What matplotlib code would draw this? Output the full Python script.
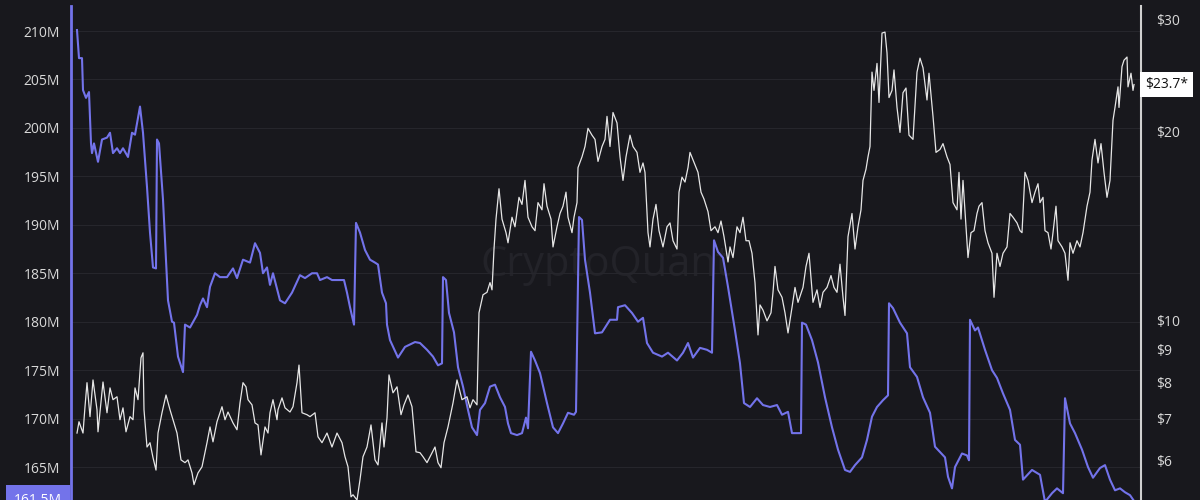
"""
Supply vs price, dual axis (left: supply in millions, right: price on log scale).
"""

import matplotlib
matplotlib.use("Agg")
import matplotlib.pyplot as plt
import matplotlib.transforms as mtransforms
from matplotlib.ticker import FixedLocator, NullLocator

# ── data ──────────────────────────────────────────────────────────────────────

supply_day = [6, 8, 11, 12, 15, 18, 20, 21, 23, 27, 31, 36, 39, 42, 46, 49, 52, 57, 61, 64,
              69, 72, 76, 79, 82, 85, 86, 88, 92, 97, 101, 103, 107, 112, 114, 119, 126, 129,
              132, 136, 139, 144, 149, 156, 162, 166, 172, 179, 184, 189, 192, 196, 199, 202,
              209, 214, 221, 229, 234, 241, 246, 249, 256, 261, 267, 273, 276, 279, 283, 285,
              289, 294, 299, 304, 307, 311, 315, 316, 319, 327, 334, 344, 349, 356, 362, 367,
              371, 372, 375, 378, 383, 387, 392, 397, 401, 406, 409, 414, 419, 424, 429, 434,
              437, 440, 446, 451, 455, 457, 460, 464, 469, 476, 482, 487, 492, 497, 503, 505,
              508, 511, 514, 519, 524, 531, 539, 546, 547, 554, 561, 567, 572, 576, 582, 591,
              597, 606, 612, 617, 622, 629, 636, 641, 643, 647, 652, 657, 664, 669, 673, 679,
              686, 692, 699, 706, 711, 717, 721, 730, 731, 735, 741, 747, 754, 761, 767, 774,
              779, 784, 791, 796, 801, 806, 812, 817, 818, 822, 829, 836, 839, 846, 852, 859,
              864, 874, 877, 881, 884, 891, 896, 898, 899, 904, 907, 914, 921, 926, 932, 939,
              944, 949, 952, 961, 969, 974, 981, 986, 992, 994, 999, 1004, 1011, 1017, 1022,
              1029, 1034, 1039, 1044, 1049, 1054, 1059, 1063]

supply_m = [210.1, 207.2, 207.2, 203.9, 203.1, 203.7, 198.4, 197.4, 198.4, 196.5, 198.8, 199.0,
            199.5, 197.4, 197.9, 197.4, 197.9, 197.0, 199.5, 199.3, 202.2, 199.5, 193.9, 189.2,
            185.6, 185.5, 198.8, 198.4, 192.6, 182.2, 180.0, 179.9, 176.4, 174.8, 179.7, 179.4,
            180.7, 181.7, 182.4, 181.5, 183.6, 185.0, 184.6, 184.6, 185.5, 184.5, 186.4, 186.1,
            188.1, 187.1, 185.0, 185.6, 183.8, 185.0, 182.2, 181.9, 183.0, 184.8, 184.5, 185.0,
            185.0, 184.3, 184.6, 184.3, 184.3, 184.3, 183.0, 181.5, 179.7, 190.2, 189.2, 187.4,
            186.4, 186.1, 185.9, 183.0, 181.9, 179.7, 178.1, 176.3, 177.4, 177.9, 177.8, 177.1,
            176.4, 175.5, 175.7, 184.6, 184.3, 180.9, 178.9, 175.3, 173.3, 170.9, 169.1, 168.3,
            170.9, 171.6, 173.3, 173.5, 172.2, 171.2, 169.5, 168.5, 168.3, 168.5, 170.1, 169.0,
            176.9, 176.0, 174.7, 171.6, 169.1, 168.5, 169.5, 170.6, 170.4, 170.7, 190.8, 190.5,
            186.4, 183.0, 178.8, 178.9, 180.2, 180.2, 181.5, 181.7, 180.9, 180.0, 180.4, 177.8,
            176.8, 176.4, 176.8, 176.0, 176.8, 177.8, 176.3, 177.3, 177.1, 176.8, 188.4, 187.2,
            186.6, 183.6, 179.1, 175.7, 171.6, 171.2, 172.1, 171.4, 171.2, 171.4, 170.4, 170.7,
            168.5, 168.5, 179.9, 179.7, 178.1, 175.8, 172.2, 169.1, 166.8, 164.7, 164.5, 165.2,
            166.0, 167.8, 170.2, 171.2, 171.9, 172.4, 181.9, 181.4, 179.9, 178.8, 175.3, 174.3,
            172.2, 170.6, 167.1, 166.0, 164.0, 162.8, 165.0, 166.4, 166.2, 165.7, 180.2, 179.1,
            179.4, 177.1, 175.0, 174.2, 172.6, 170.9, 167.8, 167.3, 163.7, 164.7, 164.2, 161.4,
            162.3, 162.8, 162.3, 172.1, 169.5, 168.5, 166.8, 165.0, 163.9, 164.9, 165.2, 163.7,
            162.6, 162.8, 162.4, 162.1, 161.5]

price_day = [6, 8, 12, 14, 16, 19, 22, 26, 27, 32, 36, 39, 42, 46, 49, 52, 55, 59, 62, 64, 67,
             70, 72, 73, 76, 79, 82, 85, 87, 91, 95, 99, 103, 106, 110, 114, 117, 121, 123, 127,
             131, 136, 139, 142, 146, 151, 154, 157, 162, 166, 169, 172, 175, 177, 181, 184, 187,
             190, 194, 197, 199, 202, 206, 207, 211, 214, 219, 222, 226, 228, 231, 236, 239, 244,
             247, 251, 256, 261, 266, 271, 274, 277, 280, 282, 286, 289, 292, 296, 300, 304, 307,
             311, 313, 316, 318, 322, 326, 330, 333, 337, 341, 345, 349, 352, 356, 359, 364, 367,
             370, 373, 377, 382, 386, 391, 396, 399, 402, 406, 408, 412, 416, 419, 421, 423, 425,
             428, 431, 435, 437, 441, 444, 448, 451, 454, 457, 461, 464, 467, 471, 473, 476, 480,
             482, 486, 489, 492, 495, 497, 501, 503, 506, 507, 511, 514, 517, 521, 524, 527, 531,
             534, 536, 539, 542, 546, 549, 552, 555, 559, 562, 566, 569, 572, 574, 577, 579, 582,
             585, 588, 592, 596, 599, 602, 606, 608, 611, 614, 617, 619, 622, 627, 630, 633, 637,
             640, 644, 647, 650, 653, 657, 659, 662, 666, 669, 672, 675, 678, 681, 684, 687, 689,
             692, 696, 700, 702, 704, 707, 711, 714, 717, 721, 724, 727, 732, 735, 738, 742, 746,
             749, 752, 756, 760, 763, 766, 769, 772, 774, 777, 781, 784, 787, 790, 792, 795, 797,
             799, 801, 803, 806, 808, 811, 814, 816, 818, 821, 823, 826, 829, 832, 835, 838, 842,
             846, 849, 852, 856, 858, 862, 865, 869, 872, 876, 879, 882, 886, 888, 890, 892, 895,
             897, 900, 903, 906, 908, 911, 914, 917, 921, 923, 926, 929, 932, 936, 939, 942, 946,
             949, 951, 954, 957, 961, 964, 967, 969, 972, 974, 977, 980, 982, 985, 987, 991, 994,
             997, 999, 1002, 1006, 1009, 1012, 1016, 1019, 1021, 1024, 1027, 1030, 1033, 1036,
             1039, 1042, 1044, 1047, 1048, 1051, 1053, 1056, 1057, 1060, 1062, 1063]

price_usd = [6.64, 6.92, 6.64, 7.31, 7.98, 7.05, 8.06, 7.23, 6.67, 8.00, 7.15, 7.83, 7.50, 7.58,
             6.97, 7.28, 6.67, 7.05, 6.97, 7.83, 7.50, 8.74, 8.90, 7.23, 6.31, 6.41, 6.07, 5.80,
             6.64, 7.15, 7.63, 7.23, 6.89, 6.64, 6.02, 5.96, 6.02, 5.74, 5.50, 5.74, 5.87, 6.41,
             6.79, 6.43, 6.92, 7.31, 6.97, 7.17, 6.89, 6.72, 7.41, 7.98, 7.86, 7.50, 7.36, 6.89,
             6.84, 6.13, 6.79, 6.64, 7.15, 7.50, 6.97, 7.23, 7.55, 7.28, 7.17, 7.31, 7.98, 8.51,
             7.15, 7.10, 7.05, 7.15, 6.55, 6.41, 6.64, 6.31, 6.64, 6.41, 6.09, 5.87, 5.26, 5.30,
             5.20, 5.60, 6.09, 6.31, 6.84, 6.02, 5.91, 6.89, 6.31, 7.02, 8.21, 7.69, 7.86, 7.10,
             7.36, 7.63, 7.31, 6.20, 6.18, 6.09, 5.96, 6.09, 6.31, 5.96, 5.85, 6.41, 6.79, 7.41,
             8.06, 7.50, 7.58, 7.28, 7.50, 7.36, 10.3, 11.0, 11.1, 11.5, 11.2, 13.0, 14.5, 16.2,
             14.5, 13.8, 13.3, 14.6, 14.1, 15.7, 15.3, 16.7, 14.6, 14.1, 13.9, 15.4, 15.0, 16.5,
             15.2, 14.5, 13.1, 14.1, 14.8, 15.2, 16.0, 14.6, 13.8, 14.6, 15.4, 17.5, 18.2, 18.9,
             20.2, 19.7, 19.4, 17.9, 18.9, 19.4, 21.1, 18.9, 21.4, 20.6, 18.2, 16.7, 18.2, 19.7,
             18.9, 18.5, 17.2, 17.8, 17.2, 13.8, 13.1, 14.5, 15.3, 13.9, 13.1, 14.1, 14.3, 13.4,
             13.0, 16.0, 16.9, 16.6, 17.5, 18.5, 18.0, 17.2, 16.0, 15.6, 14.9, 13.9, 14.1, 13.8,
             14.4, 13.6, 12.4, 13.1, 12.6, 14.1, 13.8, 14.6, 13.4, 13.4, 12.8, 11.5, 9.50, 10.6,
             10.4, 10.0, 10.3, 11.1, 12.2, 11.2, 10.9, 10.3, 9.57, 10.5, 11.3, 10.7, 11.3, 12.2,
             12.8, 10.7, 11.2, 10.5, 11.1, 11.3, 11.8, 11.3, 11.1, 12.3, 10.9, 10.2, 13.6, 14.8,
             13.0, 14.1, 15.0, 16.7, 17.4, 18.2, 18.9, 24.8, 23.2, 25.6, 22.2, 28.6, 28.7, 26.6,
             22.6, 23.2, 25.0, 21.8, 19.9, 23.0, 23.4, 19.7, 19.4, 24.8, 26.1, 25.2, 22.4, 24.7,
             21.1, 18.5, 18.7, 19.1, 18.2, 17.7, 15.4, 15.0, 17.2, 14.5, 16.7, 14.1, 12.6, 13.8,
             13.9, 14.8, 15.2, 15.4, 13.9, 13.3, 12.8, 10.9, 12.8, 12.2, 12.8, 13.1, 14.8, 14.6,
             14.3, 13.9, 13.8, 17.2, 16.7, 15.4, 16.0, 16.5, 15.4, 15.7, 13.9, 13.8, 13.0, 13.8,
             15.2, 13.4, 13.1, 12.8, 11.6, 13.3, 12.8, 13.4, 13.1, 13.8, 15.2, 16.0, 18.0, 19.4,
             17.8, 19.1, 17.2, 15.7, 16.7, 20.8, 21.8, 23.5, 21.8, 25.3, 25.9, 26.2, 23.5, 24.7,
             23.2, 23.7]

supply_ticks = [165, 170, 175, 180, 185, 190, 195, 200, 205, 210]
price_ticks = [6, 7, 8, 9, 10, 20, 30]
last_supply = 161.5
last_price = 23.7

# ── style ─────────────────────────────────────────────────────────────────────

BG = '#18181d'
PURPLE = '#7373ea'
WHITE = '#e6e6e6'
LABEL = '#d8d8d8'
plt.rcParams['font.family'] = ['Open Sans', 'DejaVu Sans']

fig = plt.figure(figsize=(12, 5), dpi=100, facecolor=BG)
ax = fig.add_axes([71 / 1200, 0.0, 1070 / 1200, 494 / 500])
ax.set_facecolor(BG)

# watermark
ax.text(0.5, 0.476, 'CryptoQuant', transform=ax.transAxes, fontsize=30,
        color='#232329', ha='center', va='center', zorder=0)

# supply line (left axis)
ax.plot(supply_day, supply_m, color=PURPLE, linewidth=1.5, zorder=3)
ax.set_xlim(0, 1070)
ax.set_ylim(161.6, 212.58)
ax.yaxis.set_major_locator(FixedLocator(supply_ticks))
ax.set_yticklabels([f'{t}M' for t in supply_ticks])
ax.grid(axis='y', color='#26262c', linewidth=0.8)
ax.set_axisbelow(True)
ax.tick_params(axis='y', length=0, pad=8, labelsize=10, labelcolor=LABEL)
ax.tick_params(axis='x', bottom=False, labelbottom=False)
for side in ('top', 'bottom', 'right'):
    ax.spines[side].set_visible(False)
ax.spines['left'].set_color(PURPLE)
ax.spines['left'].set_linewidth(2)

# price line (right axis, log)
ax2 = ax.twinx()
ax2.patch.set_visible(False)
ax2.plot(price_day, price_usd, color=WHITE, linewidth=0.9, zorder=2)
ax2.set_yscale('log')
ax2.set_ylim(5.20, 31.57)
ax2.yaxis.set_major_locator(FixedLocator(price_ticks))
ax2.yaxis.set_minor_locator(NullLocator())
ax2.set_yticklabels([f'${t}' for t in price_ticks])
ax2.tick_params(axis='y', length=0, pad=11, labelsize=10, labelcolor=LABEL)
for side in ('top', 'bottom', 'left'):
    ax2.spines[side].set_visible(False)
ax2.spines['right'].set_color('#d0d0d0')
ax2.spines['right'].set_linewidth(1.5)

# last-value badges
trans2 = mtransforms.blended_transform_factory(ax2.transAxes, ax2.transData)
ax2.text(1.004, last_price, f'${last_price}*', transform=trans2, fontsize=10,
         color='#111111', ha='left', va='center', clip_on=False,
         bbox=dict(boxstyle='square,pad=0.35', fc='white', ec='none'))

trans1 = mtransforms.blended_transform_factory(ax.transAxes, ax.transData)
ax.text(-0.0084, last_supply, f'{last_supply}M', transform=trans1, fontsize=10,
        color='white', ha='right', va='center', clip_on=False,
        bbox=dict(boxstyle='square,pad=0.6', fc=PURPLE, ec='none'))

fig.savefig('out.png', dpi=100, facecolor=BG)
